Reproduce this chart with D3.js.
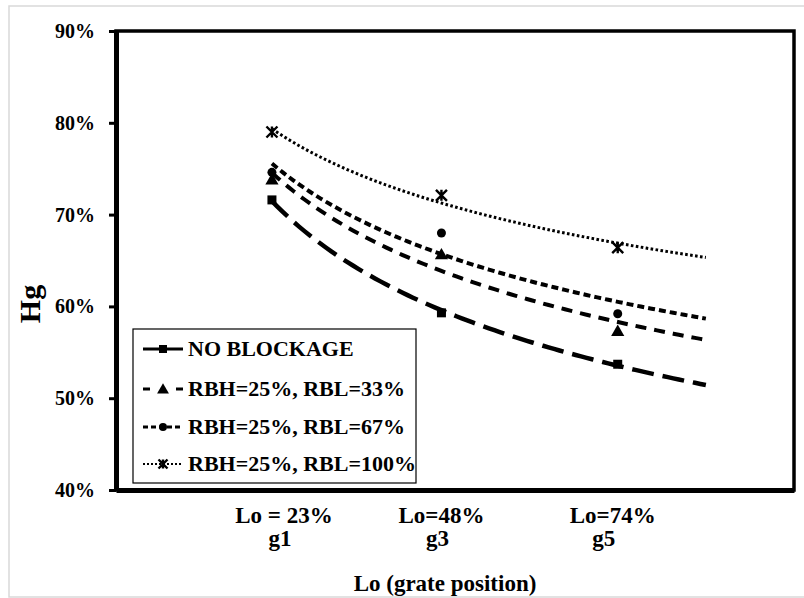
<!DOCTYPE html>
<html>
<head>
<meta charset="utf-8">
<script src="https://cdn.jsdelivr.net/npm/d3@7"></script>
<style>
  body { margin: 0; background: #fff; }
  text { font-family: "Liberation Serif", "Times New Roman", serif; font-weight: bold; fill: #000; }
</style>
</head>
<body>
<div id="chart"></div>
<script>
// Values
const categories = ["g1", "g3", "g5"];
const loValues = [0.23, 0.48, 0.74];
const loLabels = ["Lo = 23%", "Lo=48%", "Lo=74%"];
const seriesNames = ["NO BLOCKAGE", "RBH=25%, RBL=33%", "RBH=25%, RBL=67%", "RBH=25%, RBL=100%"];
const noBlockage = [0.716, 0.593, 0.537];
const rbl33 = [0.738, 0.6565, 0.573];
const rbl67 = [0.746, 0.680, 0.592];
const rbl100 = [0.790, 0.721, 0.664];
const yTicks = [0.4, 0.5, 0.6, 0.7, 0.8, 0.9];
const trendForecastEnd = 0.87;

const width = 804, height = 598;
const margin = { top: 31, right: 10, bottom: 108, left: 116 };

const svg = d3.select("#chart")
    .append("svg")
    .attr("width", width)
    .attr("height", height);

// outer chart frame
svg.append("rect")
    .attr("x", 9).attr("y", 6)
    .attr("width", 810).attr("height", 591)
    .attr("fill", "#fff")
    .attr("stroke", "#d9d9d9")
    .attr("stroke-width", 1.5);

const x = d3.scaleLinear().domain([0, 1]).range([margin.left, width - margin.right]);
const y = d3.scaleLinear().domain([0.4, 0.9]).range([height - margin.bottom, margin.top]);

// plot area border
svg.append("rect")
    .attr("x", x(0)).attr("y", y(0.9))
    .attr("width", x(1) - x(0)).attr("height", y(0.4) - y(0.9))
    .attr("fill", "none")
    .attr("stroke", "#000")
    .attr("stroke-width", 3.5);

// Y axis
const yAxis = svg.append("g")
    .attr("transform", "translate(" + x(0) + ",0)")
    .call(d3.axisLeft(y).tickValues(yTicks).tickFormat(d3.format(".0%")).tickSize(7).tickPadding(14).tickSizeOuter(0));
yAxis.select(".domain").attr("stroke-width", 5);
yAxis.selectAll(".tick line").attr("stroke-width", 3);
yAxis.selectAll(".tick text")
    .attr("font-family", "Liberation Serif, serif")
    .attr("font-weight", "bold")
    .attr("font-size", 20);

// X axis line (no ticks, labels are placed by hand like text boxes)
const xAxis = svg.append("g")
    .attr("transform", "translate(0," + y(0.4) + ")")
    .call(d3.axisBottom(x).tickValues([]).tickSizeOuter(0));
xAxis.select(".domain").attr("stroke-width", 5);

// category labels
const labelNudge = [12, 0, -5];
const catNudge = [8, -4, -14];
svg.selectAll(".lo-label")
    .data(loLabels)
    .enter()
    .append("text")
    .attr("class", "lo-label")
    .attr("x", (d, i) => x(loValues[i]) + labelNudge[i])
    .attr("y", 523)
    .attr("text-anchor", "middle")
    .attr("font-size", 23)
    .text(d => d);

svg.selectAll(".cat-label")
    .data(categories)
    .enter()
    .append("text")
    .attr("class", "cat-label")
    .attr("x", (d, i) => x(loValues[i]) + catNudge[i])
    .attr("y", 546)
    .attr("text-anchor", "middle")
    .attr("font-size", 23)
    .text(d => d);

// axis titles
svg.append("text")
    .attr("x", 445)
    .attr("y", 591)
    .attr("text-anchor", "middle")
    .attr("font-size", 23)
    .text("Lo (grate position)");

svg.append("text")
    .attr("transform", "translate(40,304) rotate(-90)")
    .attr("text-anchor", "middle")
    .attr("font-size", 30)
    .text("Hg");

// series definitions
const series = [
    { name: seriesNames[0], values: noBlockage, marker: "square", dash: "22,9", width: 4.5, cap: "butt", legendDash: null },
    { name: seriesNames[1], values: rbl33, marker: "triangle", dash: "11,8", width: 4, cap: "butt", legendDash: "7,26" },
    { name: seriesNames[2], values: rbl67, marker: "circle", dash: "7,4", width: 4, cap: "butt", legendDash: "5,3" },
    { name: seriesNames[3], values: rbl100, marker: "star", dash: "2.6,2.4", width: 3, cap: "butt", legendDash: "2,2" }
];

// power trendline (least squares on ln x, ln y), like the spreadsheet trendline
function powerFit(xs, ys) {
    const lx = xs.map(Math.log);
    const ly = ys.map(Math.log);
    const mx = d3.mean(lx), my = d3.mean(ly);
    const sxy = d3.sum(lx, (v, i) => (v - mx) * (ly[i] - my));
    const sxx = d3.sum(lx, v => (v - mx) * (v - mx));
    const b = sxy / sxx;
    const a = Math.exp(my - b * mx);
    return v => a * Math.pow(v, b);
}

const line = d3.line()
    .x(d => x(d[0]))
    .y(d => y(d[1]));

series.forEach(s => {
    const f = powerFit(loValues, s.values);
    const pts = d3.range(0, 81).map(i => {
        const v = loValues[0] + (trendForecastEnd - loValues[0]) * i / 80;
        return [v, f(v)];
    });
    svg.append("path")
        .attr("d", line(pts))
        .attr("fill", "none")
        .attr("stroke", "#000")
        .attr("stroke-width", s.width)
        .attr("stroke-linecap", s.cap)
        .attr("stroke-dasharray", s.dash);
});

function drawMarker(g, type, cx, cy, size) {
    const r = size / 2;
    if (type === "square") {
        g.append("rect").attr("x", cx - r).attr("y", cy - r).attr("width", size).attr("height", size).attr("fill", "#000");
    } else if (type === "triangle") {
        g.append("path")
            .attr("d", d3.symbol().type(d3.symbolTriangle).size(size * size * 0.75)())
            .attr("transform", "translate(" + cx + "," + (cy + 1) + ")")
            .attr("fill", "#000");
    } else if (type === "circle") {
        g.append("circle").attr("cx", cx).attr("cy", cy).attr("r", r).attr("fill", "#000");
    } else if (type === "star") {
        const p = d3.path();
        p.moveTo(cx - r, cy - r); p.lineTo(cx + r, cy + r);
        p.moveTo(cx - r, cy + r); p.lineTo(cx + r, cy - r);
        p.moveTo(cx, cy - r); p.lineTo(cx, cy + r);
        g.append("path").attr("d", p.toString()).attr("stroke", "#000").attr("stroke-width", 2.4).attr("fill", "none");
    }
}

// markers
const markerSizes = { square: 9, triangle: 10, circle: 9, star: 11 };
series.forEach(s => {
    const g = svg.append("g");
    s.values.forEach((v, i) => drawMarker(g, s.marker, x(loValues[i]), y(v), markerSizes[s.marker]));
});

// legend
const legend = svg.append("g").attr("transform", "translate(133,329)");
legend.append("rect")
    .attr("width", 283).attr("height", 154)
    .attr("fill", "#fff")
    .attr("stroke", "#000")
    .attr("stroke-width", 1.2);

const rowY = [20, 60, 98, 135];
const legendSizes = { square: 8, triangle: 9, circle: 8, star: 9 };
series.forEach((s, i) => {
    const row = legend.append("g").attr("transform", "translate(0," + rowY[i] + ")");
    row.append("line")
        .attr("x1", 10).attr("x2", 50)
        .attr("y1", 0).attr("y2", 0)
        .attr("stroke", "#000")
        .attr("stroke-width", s.marker === "star" ? 2 : 3)
        .attr("stroke-dasharray", s.legendDash);
    drawMarker(row, s.marker, 30, 0, legendSizes[s.marker]);
    row.append("text")
        .attr("x", 55)
        .attr("y", 7)
        .attr("font-size", 22)
        .text(s.name);
});
</script>
</body>
</html>
